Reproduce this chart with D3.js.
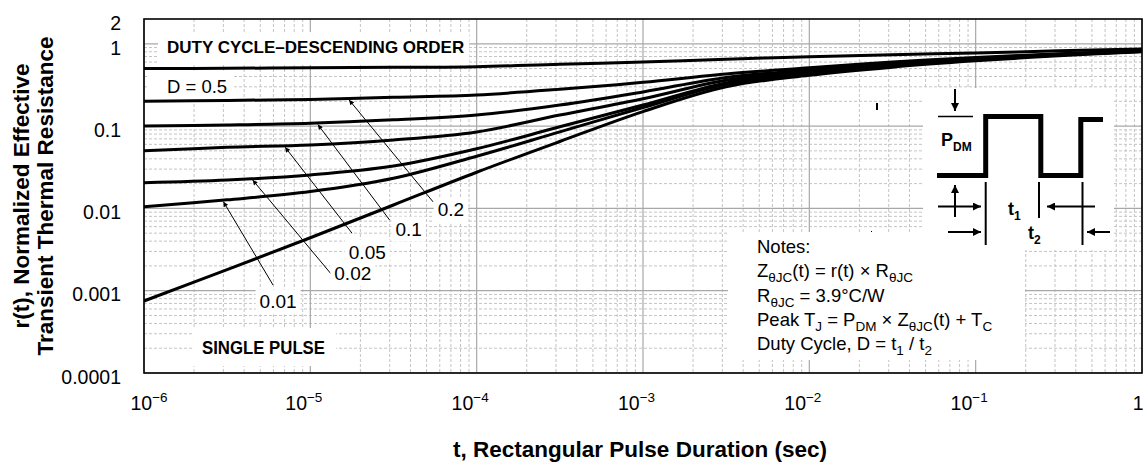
<!DOCTYPE html>
<html>
<head>
<meta charset="utf-8">
<script src="https://cdn.jsdelivr.net/npm/d3@7"></script>
<style>
  body { margin: 0; background: #fff; }
  svg { display: block; font-family: "Liberation Sans", Arial, Helvetica, sans-serif; }
</style>
</head>
<body>
<svg id="chart" width="1143" height="464"></svg>
<script>
const pulseTimes = [1e-6, 3.16e-6, 1e-5, 3.16e-5, 1e-4, 3.16e-4, 1e-3, 3.16e-3, 1e-2, 3.16e-2, 1e-1, 3.16e-1, 1];

// r(t) for each duty cycle
const duty05 = [0.5, 0.503, 0.512, 0.517, 0.526, 0.565, 0.6, 0.648, 0.697, 0.735, 0.775, 0.82, 0.865];
const duty02 = [0.2, 0.205, 0.211, 0.224, 0.239, 0.28, 0.34, 0.43, 0.51, 0.6, 0.68, 0.755, 0.83];
const duty01 = [0.1, 0.103, 0.108, 0.119, 0.136, 0.18, 0.26, 0.39, 0.48, 0.58, 0.665, 0.745, 0.82];
const duty005 = [0.05, 0.0552, 0.059, 0.0678, 0.085, 0.136, 0.215, 0.36, 0.46, 0.56, 0.655, 0.74, 0.815];
const duty002 = [0.0205, 0.0221, 0.0255, 0.0327, 0.053, 0.098, 0.18, 0.335, 0.44, 0.55, 0.645, 0.735, 0.81];
const duty001 = [0.0105, 0.0127, 0.016, 0.0232, 0.043, 0.085, 0.168, 0.322, 0.43, 0.54, 0.635, 0.73, 0.805];
const singlePulse = [0.00075, 0.0018, 0.0044, 0.011, 0.0275, 0.065, 0.15, 0.3, 0.414, 0.52, 0.62, 0.715, 0.8];

const seriesValues = [duty05, duty02, duty01, duty005, duty002, duty001, singlePulse];

// tick labels
const xTicks = [1e-6, 1e-5, 1e-4, 1e-3, 1e-2, 1e-1, 1];
const xTickExp = ["\u22126", "\u22125", "\u22124", "\u22123", "\u22122", "\u22121", ""];
const yTicks = [1e-4, 1e-3, 1e-2, 1e-1, 1, 2];
const yTickLabels = ["0.0001", "0.001", "0.01", "0.1", "1", "2"];

// arrow callouts for the lower duty cycles (series index into seriesValues)
const calloutText = ["0.2", "0.1", "0.05", "0.02", "0.01"];
const calloutSeries = [1, 2, 3, 4, 5];
const calloutLabelT = [7.0e-5, 3.9e-5, 2.2e-5, 1.8e-5, 6.4e-6];
const calloutLabelR = [0.0096, 0.0056, 0.00295, 0.0016, 0.00073];
const calloutTailT = [5.47e-5, 3.0e-5, 1.78e-5, 1.35e-5, 5.97e-6];
const calloutTailR = [0.012, 0.0072, 0.005, 0.00155, 0.00117];
const calloutTipT = [1.71e-5, 1.11e-5, 7.05e-6, 4.5e-6, 3.0e-6];

const svg = d3.select("#chart");
const x = d3.scaleLog().domain([1e-6, 1]).range([144, 1142]);
const y = d3.scaleLog().domain([1e-4, 2]).range([373, 19]);
const [x0, x1] = x.range();
const [y0, y1] = y.range();

const isDecade = v => Math.abs(Math.log10(v) - Math.round(Math.log10(v))) < 1e-9;

// markers
const defs = svg.append("defs");
function marker(id, len, wid) {
  defs.append("marker")
    .attr("id", id)
    .attr("viewBox", "0 0 10 10")
    .attr("refX", 10).attr("refY", 5)
    .attr("markerUnits", "userSpaceOnUse")
    .attr("markerWidth", len).attr("markerHeight", wid)
    .attr("orient", "auto")
    .append("path").attr("d", "M0,0L10,5L0,10Z").attr("fill", "#000");
}
marker("arrowSmall", 11, 5);
marker("arrowBig", 13, 8);

defs.append("clipPath").attr("id", "plotClip")
  .append("rect").attr("x", x0).attr("y", y1).attr("width", x1 - x0).attr("height", y0 - y1);

// grid
const grid = svg.append("g");
const xAll = x.ticks();
const yAll = y.ticks().filter(v => v < 2);

grid.selectAll("line.xminor").data(xAll.filter(v => !isDecade(v)))
  .enter().append("line")
  .attr("x1", d => x(d)).attr("x2", d => x(d))
  .attr("y1", y1).attr("y2", y0)
  .attr("stroke", "#c4c4c4").attr("stroke-width", 1).attr("stroke-dasharray", "3,2");
grid.selectAll("line.yminor").data(yAll.filter(v => !isDecade(v)))
  .enter().append("line")
  .attr("y1", d => y(d)).attr("y2", d => y(d))
  .attr("x1", x0).attr("x2", x1)
  .attr("stroke", "#c4c4c4").attr("stroke-width", 1).attr("stroke-dasharray", "3,2");
grid.selectAll("line.xmajor").data(xAll.filter(isDecade))
  .enter().append("line")
  .attr("x1", d => x(d)).attr("x2", d => x(d))
  .attr("y1", y1).attr("y2", y0)
  .attr("stroke", "#a8a8a8").attr("stroke-width", 1.2);
grid.selectAll("line.ymajor").data(yAll.filter(isDecade))
  .enter().append("line")
  .attr("y1", d => y(d)).attr("y2", d => y(d))
  .attr("x1", x0).attr("x2", x1)
  .attr("stroke", "#a8a8a8").attr("stroke-width", 1.2);

// white panels covering the grid (pulse sketch and notes)
svg.append("rect").attr("x", 923).attr("y", 88).attr("width", 191).attr("height", 162).attr("fill", "#fff");
svg.append("rect").attr("x", 728).attr("y", 232).attr("width", 297).attr("height", 128).attr("fill", "#fff");

// label with a white backing box
function boxedText(g, px, py, str, opts) {
  const t = g.append("text").attr("x", px).attr("y", py).text(str)
    .attr("font-size", opts.size).attr("font-weight", opts.weight || "normal")
    .attr("text-anchor", opts.anchor || "start")
    .attr("dominant-baseline", opts.baseline || "auto");
  if (opts.textLength) t.attr("textLength", opts.textLength).attr("lengthAdjust", "spacingAndGlyphs");
  const b = t.node().getBBox();
  const p = opts.pad;
  g.insert("rect", () => t.node())
    .attr("x", b.x - p[3]).attr("y", b.y - p[0])
    .attr("width", b.width + p[1] + p[3]).attr("height", b.height + p[0] + p[2])
    .attr("fill", "#fff");
  return t;
}

const notes = svg.append("g");
boxedText(notes, 167, 53, "DUTY CYCLE\u2013DESCENDING ORDER", { size: 17, weight: "bold", pad: [6, 5, 8, 9] });
boxedText(notes, 167, 92.5, "D = 0.5", { size: 18.5, pad: [5, 7, 4, 20] });
boxedText(notes, 202, 354, "SINGLE PULSE", { size: 18, weight: "bold", textLength: 123, pad: [10, 11, 8, 9] });

// curves
const line = d3.line()
  .x(d => x(d[0])).y(d => y(d[1]))
  .curve(d3.curveCatmullRom.alpha(0.5));

svg.append("g").attr("clip-path", "url(#plotClip)")
  .selectAll("path").data(seriesValues)
  .enter().append("path")
  .attr("d", vals => line(pulseTimes.map((t, i) => [t, vals[i]])))
  .attr("fill", "none").attr("stroke", "#000").attr("stroke-width", 3);

// value on a series at time t (log-log between read points)
function valueAt(vals, t) {
  const lt = Math.log10(t);
  for (let i = 0; i < pulseTimes.length - 1; i++) {
    const a = Math.log10(pulseTimes[i]), b = Math.log10(pulseTimes[i + 1]);
    if (lt >= a && lt <= b) {
      const f = (lt - a) / (b - a);
      return Math.pow(10, Math.log10(vals[i]) + f * (Math.log10(vals[i + 1]) - Math.log10(vals[i])));
    }
  }
  return vals[0];
}

// callouts
const callouts = svg.append("g");
calloutText.forEach((txt, i) => {
  const vals = seriesValues[calloutSeries[i]];
  callouts.append("line")
    .attr("x1", x(calloutTailT[i])).attr("y1", y(calloutTailR[i]))
    .attr("x2", x(calloutTipT[i])).attr("y2", y(valueAt(vals, calloutTipT[i])) + 1.5)
    .attr("stroke", "#000").attr("stroke-width", 1)
    .attr("marker-end", "url(#arrowSmall)");
});
calloutText.forEach((txt, i) => {
  boxedText(callouts, x(calloutLabelT[i]), y(calloutLabelR[i]), txt,
    { size: 19, anchor: "middle", baseline: "central", pad: [2, 4, 2, 4] });
});

// frame
svg.append("rect").attr("x", x0).attr("y", y1).attr("width", x1 - x0).attr("height", y0 - y1)
  .attr("fill", "none").attr("stroke", "#000").attr("stroke-width", 1.6);

// y axis labels
const yAxis = svg.append("g").attr("transform", "translate(121,4)")
  .call(d3.axisLeft(y).tickValues(yTicks).tickFormat((d, i) => yTickLabels[i]).tickSize(0).tickPadding(0));
yAxis.select(".domain").remove();
yAxis.attr("font-size", 19.5).attr("font-family", null);
yAxis.selectAll("text").attr("fill", "#000");

// x axis labels with superscript exponents
const xAxis = svg.append("g").attr("transform", "translate(0,410)")
  .call(d3.axisBottom(x).tickValues(xTicks).tickFormat("").tickSize(0).tickPadding(0));
xAxis.select(".domain").remove();
xAxis.attr("font-size", 19.5).attr("font-family", null);
xAxis.selectAll(".tick text").each(function (d, i) {
  const t = d3.select(this).attr("y", 0).attr("dy", null).attr("fill", "#000");
  if (xTickExp[i] === "") {
    t.attr("text-anchor", "end").attr("dx", 1).text("1");
    return;
  }
  t.append("tspan").text("10");
  t.append("tspan").attr("dy", -8).attr("font-size", 13.5).text(xTickExp[i]);
  if (i === 0) t.attr("text-anchor", "start").attr("dx", -14);
  else t.attr("text-anchor", "middle").attr("dx", -7);
});

// axis titles
svg.append("text").attr("x", 640).attr("y", 457).attr("text-anchor", "middle")
  .attr("font-size", 22.5).attr("font-weight", "bold")
  .text("t, Rectangular Pulse Duration (sec)");
const yTitle = svg.append("g").attr("transform", "translate(0,196) rotate(-90)")
  .attr("font-size", 22.5).attr("font-weight", "bold").attr("text-anchor", "middle");
yTitle.append("text").attr("x", 0).attr("y", 29).text("r(t), Normalized Effective");
yTitle.append("text").attr("x", 0).attr("y", 53).text("Transient Thermal Resistance");

// pulse sketch
const sk = svg.append("g").attr("stroke", "#000").attr("fill", "none");
sk.append("path").attr("d", "M937,175.5H985.7V116.5H1040.8V175.5H1080.8V119.5H1103")
  .attr("stroke-width", 5).attr("stroke-linejoin", "miter");
sk.append("line").attr("x1", 938).attr("x2", 973).attr("y1", 116.5).attr("y2", 116.5).attr("stroke-width", 1.5);
sk.append("line").attr("x1", 955).attr("x2", 955).attr("y1", 89).attr("y2", 111).attr("stroke-width", 2).attr("marker-end", "url(#arrowBig)");
sk.append("line").attr("x1", 955).attr("x2", 955).attr("y1", 217).attr("y2", 185).attr("stroke-width", 2).attr("marker-end", "url(#arrowBig)");
sk.append("line").attr("x1", 938).attr("x2", 981).attr("y1", 206.5).attr("y2", 206.5).attr("stroke-width", 2).attr("marker-end", "url(#arrowBig)");
sk.append("line").attr("x1", 1095).attr("x2", 1047).attr("y1", 206.5).attr("y2", 206.5).attr("stroke-width", 2).attr("marker-end", "url(#arrowBig)");
sk.append("line").attr("x1", 948).attr("x2", 981).attr("y1", 232).attr("y2", 232).attr("stroke-width", 2).attr("marker-end", "url(#arrowBig)");
sk.append("line").attr("x1", 1110).attr("x2", 1087).attr("y1", 232).attr("y2", 232).attr("stroke-width", 2).attr("marker-end", "url(#arrowBig)");
sk.append("line").attr("x1", 985.7).attr("x2", 985.7).attr("y1", 182).attr("y2", 245).attr("stroke-width", 2);
sk.append("line").attr("x1", 1039).attr("x2", 1039).attr("y1", 182).attr("y2", 218).attr("stroke-width", 2);
sk.append("line").attr("x1", 1082.5).attr("x2", 1082.5).attr("y1", 182).attr("y2", 245).attr("stroke-width", 2);

function subText(g, px, py, parts, size, subSize, weight) {
  const t = g.append("text").attr("x", px).attr("y", py)
    .attr("font-size", size).attr("font-weight", weight || "normal").attr("fill", "#000");
  let shifted = false;
  parts.forEach(p => {
    const isSub = p[1] === 1;
    const ts = t.append("tspan").text(p[0]);
    if (isSub && !shifted) { ts.attr("dy", 5).attr("font-size", subSize); shifted = true; }
    else if (isSub) ts.attr("font-size", subSize);
    else if (shifted) { ts.attr("dy", -5); shifted = false; }
  });
  return t;
}
subText(svg, 941, 146, [["P", 0], ["DM", 1]], 18, 12, "bold");
subText(svg, 1008, 215, [["t", 0], ["1", 1]], 18, 12, "bold");
subText(svg, 1028, 239, [["t", 0], ["2", 1]], 18, 12, "bold");

// notes block
const noteLines = [
  [["Notes:", 0]],
  [["Z", 0], ["\u03b8JC", 1], ["(t) = r(t) \u00d7 R", 0], ["\u03b8JC", 1]],
  [["R", 0], ["\u03b8JC", 1], [" = 3.9\u00b0C/W", 0]],
  [["Peak T", 0], ["J", 1], [" = P", 0], ["DM", 1], [" \u00d7 Z", 0], ["\u03b8JC", 1], ["(t) + T", 0], ["C", 1]],
  [["Duty Cycle, D = t", 0], ["1", 1], [" / t", 0], ["2", 1]]
];
noteLines.forEach((parts, i) => subText(svg, 757, 253 + i * 24.3, parts, 18.5, 13.5));

// small stray marks present in the original
svg.append("rect").attr("x", 876).attr("y", 103).attr("width", 2).attr("height", 7).attr("fill", "#000");
svg.append("rect").attr("x", 871).attr("y", 231).attr("width", 1).attr("height", 1).attr("fill", "#000");
</script>
</body>
</html>
